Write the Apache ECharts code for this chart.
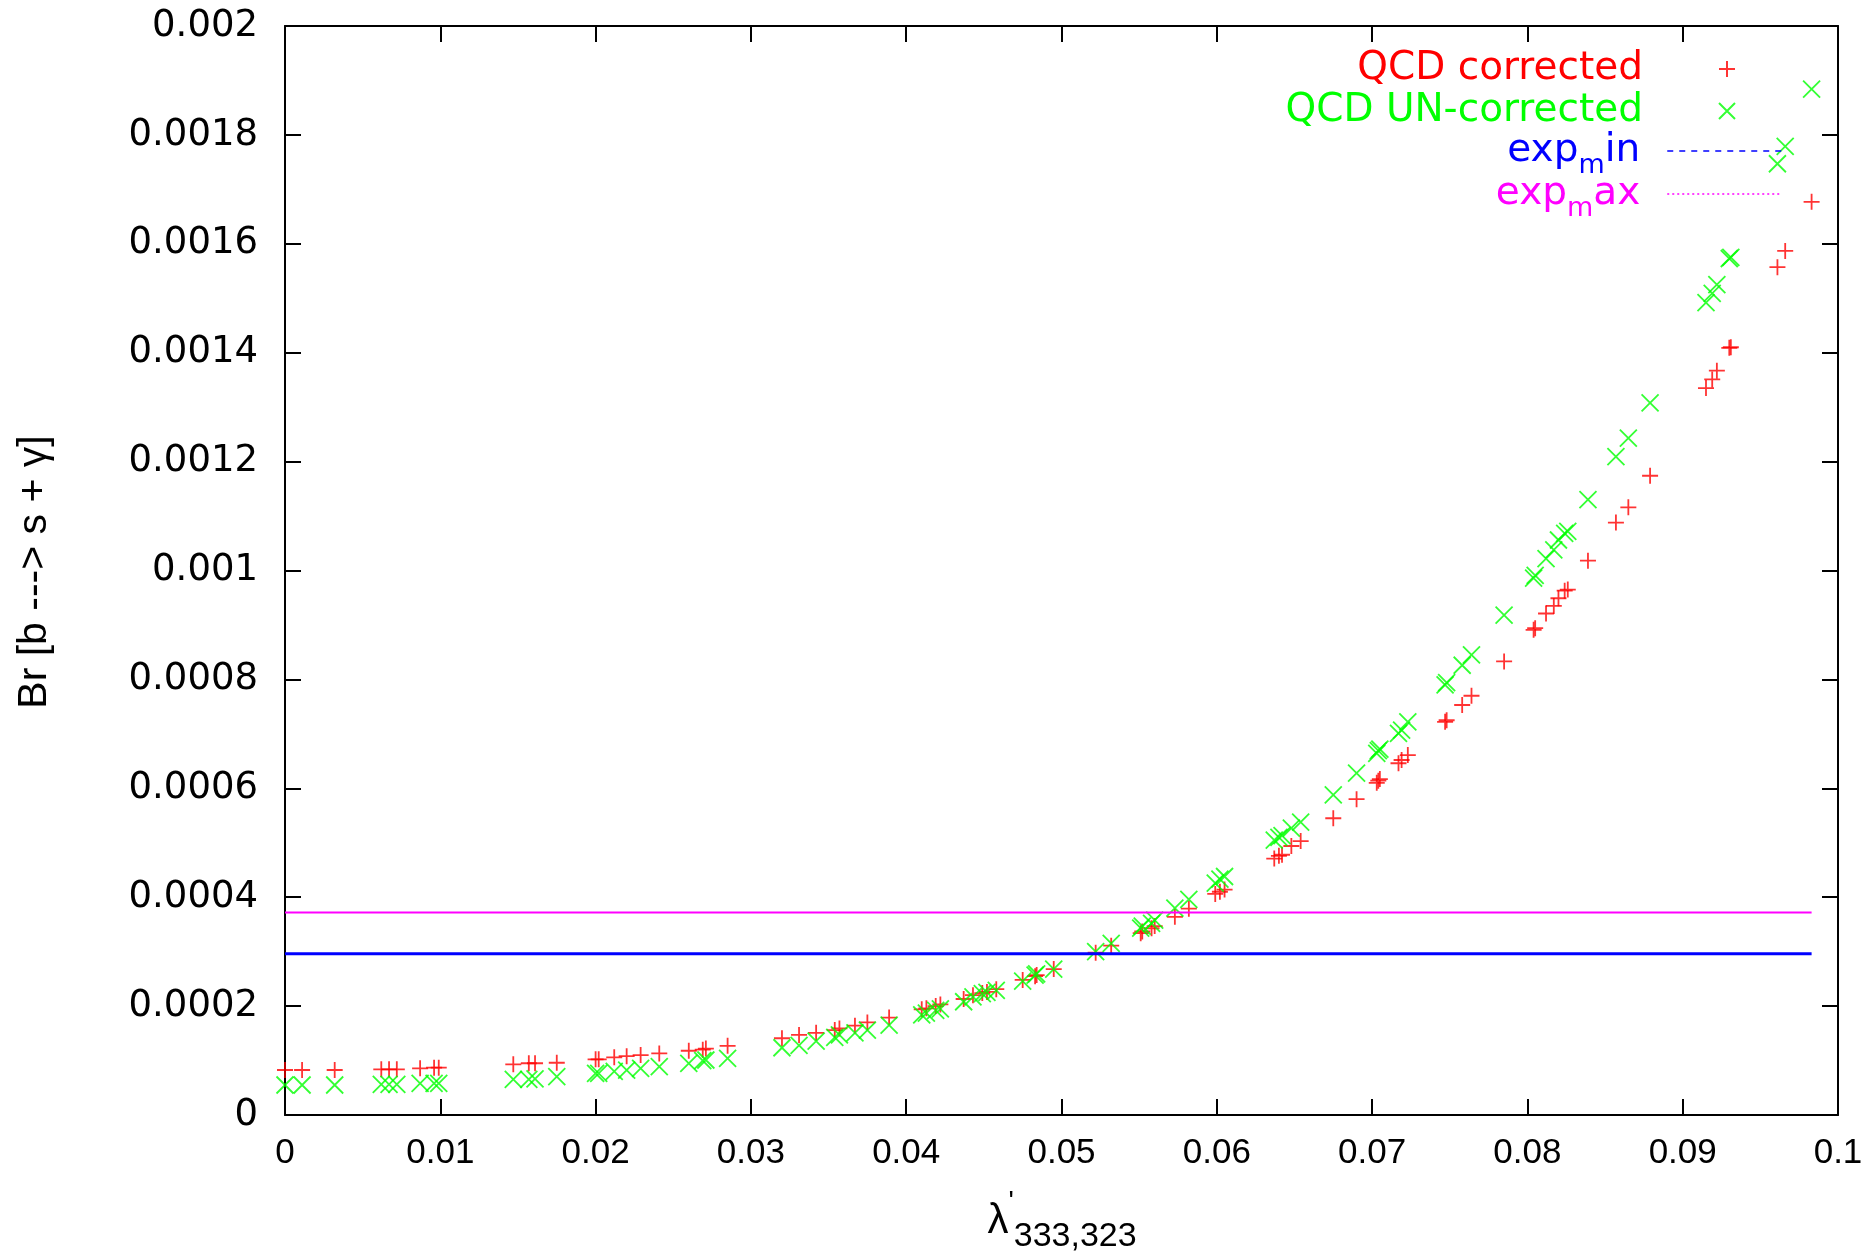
<!DOCTYPE html>
<html>
<head>
<meta charset="utf-8">
<title>Br [b ---> s + gamma] vs lambda'</title>
<script src="https://cdn.jsdelivr.net/npm/echarts/dist/echarts.min.js"></script>
<style>
  html, body { margin: 0; padding: 0; background: #fff; }
  #chart { width: 1875px; height: 1256px; }
</style>
</head>
<body>
<div id="chart"></div>
<script>
// lambda'_{333,323} values (shared by both scatter sets)
const lambda = [
  0.0000, 0.0011, 0.0032, 0.0062, 0.0067, 0.0072, 0.0087, 0.0096, 0.0099, 0.0147,
  0.0157, 0.0161, 0.0175, 0.0200, 0.0202, 0.0212, 0.0220, 0.0229, 0.0241, 0.0260,
  0.0269, 0.0271, 0.0285, 0.0320, 0.0331, 0.0342, 0.0354, 0.0357, 0.0367, 0.0375,
  0.0389, 0.0410, 0.0413, 0.0419, 0.0422, 0.0437, 0.0443, 0.0449, 0.0452, 0.0458,
  0.0475, 0.0483, 0.0484, 0.0495, 0.0522, 0.0532, 0.0551, 0.0552, 0.0558, 0.0560,
  0.0573, 0.0582, 0.0599, 0.0602, 0.0605, 0.0637, 0.0640, 0.0642, 0.0648, 0.0654,
  0.0675, 0.0690, 0.0703, 0.0704, 0.0705, 0.0717, 0.0719, 0.0723, 0.0747, 0.0748,
  0.0758, 0.0764, 0.0785, 0.0804, 0.0805, 0.0812, 0.0817, 0.0820, 0.0824, 0.0826,
  0.0839, 0.0857, 0.0865, 0.0879, 0.0915, 0.0919, 0.0922, 0.0930, 0.0931, 0.0961,
  0.0966, 0.0983
];

// QCD corrected branching ratio (red +)
const brCorrected = [
  0.0000826, 0.0000826, 0.0000826, 0.0000838, 0.0000838, 0.0000838, 0.0000857, 0.0000869, 0.0000869, 0.0000931,
  0.0000950, 0.0000950, 0.0000960, 0.0001022, 0.0001022, 0.0001060, 0.0001080, 0.0001100, 0.0001130, 0.0001180,
  0.0001200, 0.0001220, 0.0001270, 0.0001410, 0.0001470, 0.0001510, 0.0001560, 0.0001590, 0.0001640, 0.0001700,
  0.0001790, 0.0001940, 0.0001960, 0.0002000, 0.0002030, 0.0002130, 0.0002200, 0.0002240, 0.0002260, 0.0002310,
  0.0002480, 0.0002550, 0.0002570, 0.0002680, 0.0002980, 0.0003110, 0.0003340, 0.0003370, 0.0003430, 0.0003470,
  0.0003640, 0.0003790, 0.0004060, 0.0004100, 0.0004140, 0.0004710, 0.0004760, 0.0004780, 0.0004940, 0.0005030,
  0.0005450, 0.0005800, 0.0006100, 0.0006140, 0.0006170, 0.0006460, 0.0006520, 0.0006610, 0.0007220, 0.0007250,
  0.0007530, 0.0007700, 0.0008330, 0.0008910, 0.0008940, 0.0009210, 0.0009350, 0.0009490, 0.0009630, 0.0009650,
  0.0010180, 0.0010880, 0.0011160, 0.0011740, 0.0013350, 0.0013510, 0.0013670, 0.0014090, 0.0014100, 0.0015570,
  0.0015870, 0.0016770
];

// QCD un-corrected branching ratio (green x)
const brUncorrected = [
  0.0000551, 0.0000551, 0.0000551, 0.0000563, 0.0000563, 0.0000563, 0.0000582, 0.0000582, 0.0000582, 0.0000656,
  0.0000656, 0.0000665, 0.0000704, 0.0000766, 0.0000766, 0.0000800, 0.0000826, 0.0000857, 0.0000888, 0.0000950,
  0.0000997, 0.0001010, 0.0001040, 0.0001235, 0.0001280, 0.0001355, 0.0001427, 0.0001470, 0.0001510, 0.0001560,
  0.0001650, 0.0001840, 0.0001870, 0.0001920, 0.0001950, 0.0002080, 0.0002170, 0.0002230, 0.0002250, 0.0002290,
  0.0002460, 0.0002570, 0.0002590, 0.0002680, 0.0003000, 0.0003150, 0.0003430, 0.0003470, 0.0003520, 0.0003580,
  0.0003800, 0.0003960, 0.0004260, 0.0004330, 0.0004380, 0.0005050, 0.0005100, 0.0005130, 0.0005270, 0.0005380,
  0.0005880, 0.0006280, 0.0006640, 0.0006690, 0.0006720, 0.0007010, 0.0007070, 0.0007220, 0.0007900, 0.0007940,
  0.0008260, 0.0008450, 0.0009180, 0.0009860, 0.0009910, 0.0010220, 0.0010380, 0.0010560, 0.0010680, 0.0010720,
  0.0011300, 0.0012090, 0.0012430, 0.0013080, 0.0014920, 0.0015090, 0.0015250, 0.0015730, 0.0015750, 0.0017470,
  0.0017790, 0.0018840
];

// experimental bounds (horizontal lines)
const expMin = 0.000296;
const expMax = 0.000372;

const xTickLabels = ['0', '0.01', '0.02', '0.03', '0.04', '0.05', '0.06', '0.07', '0.08', '0.09', '0.1'];
const yTickLabels = ['0', '0.0002', '0.0004', '0.0006', '0.0008', '0.001', '0.0012', '0.0014', '0.0016', '0.0018', '0.002'];

const RED = '#ff0000';
const GREEN = '#00ff00';
const BLUE = '#0000ff';
const MAGENTA = '#ff00ff';

const PLUS = 'path://M0,8L16,8M8,0L8,16';
const CROSS = 'path://M0,0L16,16M16,0L0,16';

const chart = echarts.init(document.getElementById('chart'));

const zip = (xs, ys) => xs.map((x, i) => [x, ys[i]]);
const xFirst = lambda[0];
const xLast = lambda[lambda.length - 1];

// axis template, mirrored on top / right without labels
function xAxisOf(pos, labels) {
  return {
    type: 'value', position: pos, min: 0, max: 0.1, interval: 0.01,
    axisLine: { show: true, onZero: false, lineStyle: { color: '#000', width: 2 } },
    axisTick: { show: true, inside: true, length: 16, lineStyle: { color: '#000', width: 2 } },
    axisLabel: {
      show: labels, margin: 21, color: '#000', fontSize: 35, fontFamily: 'Liberation Sans',
      formatter: v => xTickLabels[Math.round(v / 0.01)]
    },
    splitLine: { show: false }
  };
}
function yAxisOf(pos, labels) {
  return {
    type: 'value', position: pos, min: 0, max: 0.002, interval: 0.0002,
    axisLine: { show: true, onZero: false, lineStyle: { color: '#000', width: 2 } },
    axisTick: { show: true, inside: true, length: 16, lineStyle: { color: '#000', width: 2 } },
    axisLabel: {
      show: labels, margin: 27, color: '#000', fontSize: 37, fontFamily: 'DejaVu Sans',
      formatter: v => yTickLabels[Math.round(v / 0.0002)]
    },
    splitLine: { show: false }
  };
}

// one legend block per row so rows sit where gnuplot put them
const legendRich = {
  subB: { color: BLUE, fontSize: 27, lineHeight: 27, verticalAlign: 'bottom', fontFamily: 'DejaVu Sans' },
  subM: { color: MAGENTA, fontSize: 27, lineHeight: 27, verticalAlign: 'bottom', fontFamily: 'DejaVu Sans' }
};
function legendRow(name, color, right, top, extra) {
  return Object.assign({
    data: [name],
    right: right, top: top, padding: 0,
    orient: 'vertical', align: 'right',
    itemWidth: 114, itemHeight: 16,
    selectedMode: false,
    formatter: n => {
      if (n === 'exp_min') return 'exp{subB|m}in';
      if (n === 'exp_max') return 'exp{subM|m}ax';
      return n;
    },
    textStyle: {
      color: color, fontSize: 39, lineHeight: 56, fontFamily: 'DejaVu Sans',
      padding: [0, 22, 0, 0], rich: legendRich
    }
  }, extra || {});
}

const option = {
  animation: false,
  backgroundColor: '#fff',
  grid: { left: 285, right: 37, top: 26, bottom: 141, containLabel: false },
  xAxis: [xAxisOf('bottom', true), xAxisOf('top', false)],
  yAxis: [yAxisOf('left', true), yAxisOf('right', false)],
  legend: [
    legendRow('QCD corrected', RED, 139, 41),
    legendRow('QCD UN-corrected', GREEN, 139, 83),
    legendRow('exp_min', BLUE, 93, 123, {
      lineStyle: { width: 1.5, type: [6, 6] }, itemStyle: { opacity: 0 }
    }),
    legendRow('exp_max', MAGENTA, 93, 166, {
      lineStyle: { width: 1.5, type: [2, 3] }, itemStyle: { opacity: 0 }
    })
  ],
  graphic: [
    {
      type: 'text', x: 35, y: 572, rotation: Math.PI / 2,
      style: {
        text: 'Br [b ---> s + \u03b3]', fill: '#000',
        font: '41px "Liberation Sans"', align: 'center', verticalAlign: 'middle'
      }
    },
    {
      type: 'text', x: 1062, y: 1188,
      style: {
        text: '{l|\u03bb}{p|\'}{s|333,323}', fill: '#000', align: 'center', verticalAlign: 'top',
        rich: {
          l: { fontSize: 42, lineHeight: 66, fontFamily: 'Liberation Sans', fill: '#000' },
          p: { fontSize: 28, lineHeight: 28, verticalAlign: 'top', fontFamily: 'Liberation Sans', fill: '#000' },
          s: { fontSize: 34, lineHeight: 34, verticalAlign: 'bottom', fontFamily: 'Liberation Sans', fill: '#000' }
        }
      }
    }
  ],
  series: [
    {
      name: 'QCD corrected', type: 'scatter',
      data: zip(lambda, brCorrected),
      symbol: PLUS, symbolSize: 16,
      itemStyle: { color: 'rgba(0,0,0,0)', borderColor: RED, borderWidth: 1.8 },
      emphasis: { disabled: true }
    },
    {
      name: 'QCD UN-corrected', type: 'scatter',
      data: zip(lambda, brUncorrected),
      symbol: CROSS, symbolSize: 17,
      itemStyle: { color: 'rgba(0,0,0,0)', borderColor: GREEN, borderWidth: 1.8 },
      emphasis: { disabled: true }
    },
    {
      name: 'exp_min', type: 'line',
      data: [[xFirst, expMin], [xLast, expMin]],
      symbol: 'none', showSymbol: false,
      lineStyle: { color: BLUE, width: 3 },
      itemStyle: { color: BLUE }
    },
    {
      name: 'exp_max', type: 'line',
      data: [[xFirst, expMax], [xLast, expMax]],
      symbol: 'none', showSymbol: false,
      lineStyle: { color: MAGENTA, width: 2 },
      itemStyle: { color: MAGENTA }
    }
  ]
};

chart.setOption(option);
window.onresize = () => chart.resize();
</script>
</body>
</html>
